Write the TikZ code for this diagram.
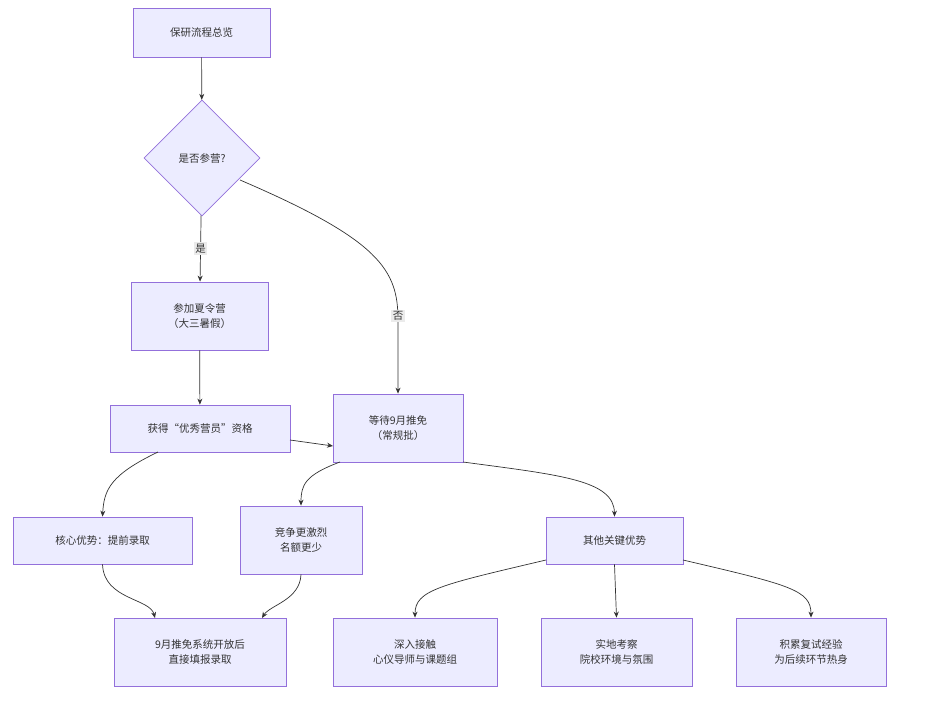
\documentclass[tikz,border=0pt]{standalone}
\usepackage{fontspec}
\setmainfont{Noto Sans CJK SC}
\usetikzlibrary{shapes.geometric,arrows.meta}
\definecolor{nf}{HTML}{ECECFF}
\definecolor{ns}{HTML}{9370DB}
\definecolor{ln}{HTML}{333333}
\begin{document}
\begin{tikzpicture}[x=1pt,y=-1pt,
  box/.style={draw=ns,fill=nf,line width=0.8pt,inner sep=0pt,font=\fontsize{10.5}{15}\selectfont,align=center,text=ln},
  dia/.style={draw=ns,fill=nf,line width=0.8pt,diamond,inner sep=0pt,minimum width=116pt,minimum height=116pt,font=\fontsize{10.5}{15}\selectfont,text=ln},
  e/.style={draw=ln,line width=0.7pt,-{Stealth[length=6pt,width=5pt]}},
  lab/.style={fill=black!8,inner sep=1.5pt,font=\fontsize{10.5}{13}\selectfont,text=ln}]
\useasboundingbox (0,0) rectangle (939,702);
\node[box,minimum width=137pt,minimum height=49pt] (A) at (201.5,32.5) {保研流程总览};
\node[dia] (B) at (202,158) {是否参营?};
\node[box,minimum width=137pt,minimum height=68pt] (C) at (199.5,316) {参加夏令营\\（大三暑假）};
\node[box,minimum width=180pt,minimum height=47pt] (D) at (200,428.5) {获得“优秀营员”资格};
\node[box,minimum width=130pt,minimum height=68pt] (E) at (398,428) {等待9月推免\\（常规批）};
\node[box,minimum width=179pt,minimum height=47pt] (F) at (102.5,540.5) {核心优势：提前录取};
\node[box,minimum width=122pt,minimum height=68pt] (G) at (301,540) {竞争更激烈\\名额更少};
\node[box,minimum width=137pt,minimum height=47pt] (H) at (614.5,540.5) {其他关键优势};
\node[box,minimum width=172pt,minimum height=68pt] (I) at (200,652) {9月推免系统开放后\\直接填报录取};
\node[box,minimum width=164pt,minimum height=68pt] (J) at (415,652) {深入接触\\心仪导师与课题组};
\node[box,minimum width=151pt,minimum height=68pt] (K) at (616.5,652) {实地考察\\院校环境与氛围};
\node[box,minimum width=150pt,minimum height=68pt] (L) at (811,652) {积累复试经验\\为后续环节热身};
\coordinate (b1) at (240,180);
\coordinate (d1) at (290,440);
\coordinate (e1) at (333,446);
\draw[e] (A) -- (B);
\draw[e] (B) -- node[lab]{是} (C);
\draw[e] (b1) .. controls (380,240) and (398,270) .. (398,320) -- (E.north);
\node[lab] (no) at (398,316) {否};
\draw[e] (C) -- (D);
\draw[e] (158,452) .. controls (110,475) and (104,490) .. (F.north);
\draw[e] (d1) -- (e1);
\draw[e,-] (463,462);
\draw[e] (463,462) .. controls (560,475) and (614,480) .. (H.north);
\draw[e] (340,462) .. controls (305,475) and (301,485) .. (G.north);
\draw[e] (F.south) .. controls (104,600) and (150,598) .. (155,618);
\draw[e] (G.south) .. controls (300,600) and (270,605) .. (262,618);
\draw[e] (546,560) .. controls (440,585) and (415,590) .. (J.north);
\draw[e] (H.south) -- (K.north);
\draw[e] (683,560) .. controls (790,585) and (811,590) .. (L.north);
\end{tikzpicture}
\end{document}
